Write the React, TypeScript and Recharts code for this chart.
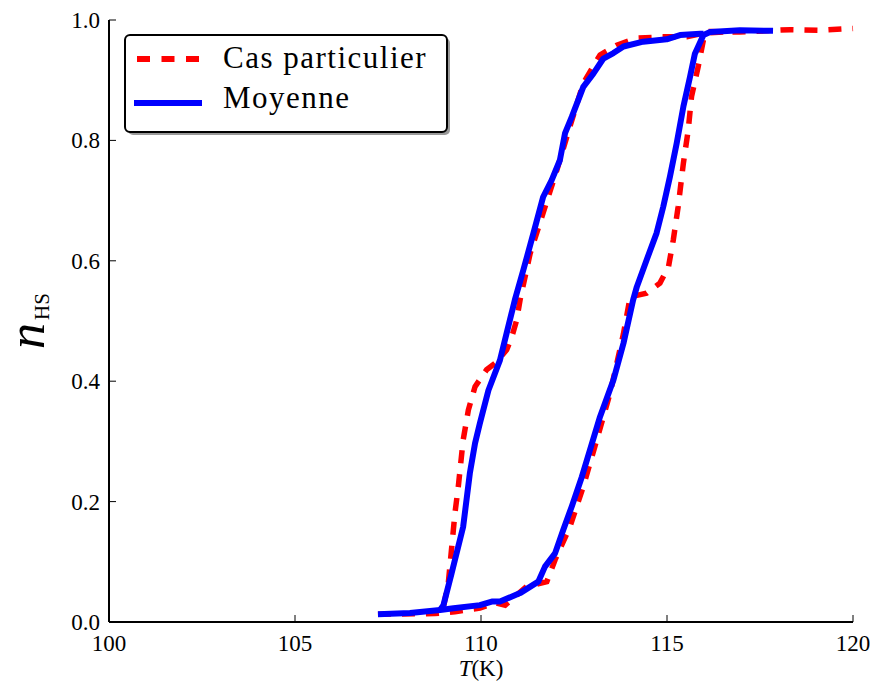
import { LineChart, Line, XAxis, YAxis } from "recharts";

const SERIF = "'Liberation Serif', serif";

// axis ticks
const xTicks = [100, 105, 110, 115, 120];
const yTicks = [0, 0.2, 0.4, 0.6, 0.8, 1.0];

// Cas particulier (dashed red) - heating branch, then cooling branch
const casHeatT = [107.23, 108.76, 109.3, 109.97, 110.38, 110.65, 111.23, 111.77, 111.99, 112.39, 112.75, 113.11, 113.47, 113.83, 114.01, 114.45, 114.81, 115.04, 115.17, 115.3, 115.44, 115.57, 115.66, 115.84, 115.98, 116.07, 116.96, 118.31, 119.11, 120.0];
const casHeatN = [0.013, 0.014, 0.017, 0.023, 0.032, 0.028, 0.059, 0.067, 0.103, 0.158, 0.225, 0.302, 0.38, 0.479, 0.54, 0.546, 0.563, 0.59, 0.635, 0.69, 0.762, 0.817, 0.873, 0.923, 0.967, 0.981, 0.98, 0.984, 0.983, 0.986];
const casCoolT = [116.51, 115.98, 115.53, 114.9, 114.19, 113.65, 113.2, 112.75, 112.39, 112.04, 111.32, 111.05, 110.96, 110.83, 110.69, 110.38, 110.15, 109.84, 109.66, 109.52, 109.39, 109.3, 109.12, 108.99, 108.76];
const casCoolN = [0.98, 0.978, 0.972, 0.972, 0.97, 0.958, 0.942, 0.895, 0.823, 0.751, 0.612, 0.535, 0.502, 0.474, 0.452, 0.43, 0.419, 0.391, 0.352, 0.302, 0.225, 0.181, 0.064, 0.025, 0.014];

// Moyenne (solid blue)
const moyHeatT = [107.23, 108.09, 108.9, 109.26, 109.97, 110.29, 110.51, 111.05, 111.54, 111.72, 111.99, 112.21, 112.44, 112.71, 112.93, 113.2, 113.56, 113.83, 114.09, 114.19, 114.45, 114.72, 114.9, 115.08, 115.26, 115.44, 115.62, 115.75, 115.98, 116.16, 116.96, 117.85];
const moyHeatN = [0.013, 0.015, 0.02, 0.023, 0.028, 0.034, 0.034, 0.048, 0.067, 0.092, 0.114, 0.153, 0.192, 0.241, 0.286, 0.341, 0.402, 0.463, 0.535, 0.557, 0.601, 0.646, 0.69, 0.74, 0.795, 0.856, 0.906, 0.944, 0.975, 0.98, 0.983, 0.982];
const moyCoolT = [115.98, 115.89, 115.35, 114.99, 114.36, 113.83, 113.56, 113.29, 113.02, 112.75, 112.44, 112.26, 112.12, 111.9, 111.67, 111.41, 111.14, 110.91, 110.69, 110.51, 110.2, 109.97, 109.84, 109.7, 109.52, 109.21, 108.99, 108.9];
const moyCoolN = [0.977, 0.977, 0.975, 0.968, 0.964, 0.956, 0.945, 0.936, 0.911, 0.889, 0.839, 0.812, 0.767, 0.734, 0.706, 0.646, 0.585, 0.535, 0.48, 0.435, 0.385, 0.33, 0.297, 0.247, 0.158, 0.081, 0.028, 0.02];

const zip = (t: number[], n: number[]) => t.map((T, i) => ({ T, n: n[i] }));

const casHeat = zip(casHeatT, casHeatN);
const casCool = zip(casCoolT, casCoolN);
const moyHeat = zip(moyHeatT, moyHeatN);
const moyCool = zip(moyCoolT, moyCoolN);

const txt = { fontFamily: SERIF, fill: "#000" };

const BottomTick = (props: any) => {
  const { x, y, payload } = props;
  return (
    <g>
      <line x1={x} y1={y} x2={x} y2={y - 7} stroke="#000" strokeWidth={1} />
      <text x={x} y={y + 29} textAnchor="middle" fontSize={23} style={txt}>
        {payload.value}
      </text>
    </g>
  );
};

const TopTick = (props: any) => {
  const { x, y } = props;
  return <line x1={x} y1={y} x2={x} y2={y + 7} stroke="#000" strokeWidth={1} />;
};

const LeftTick = (props: any) => {
  const { x, y, payload } = props;
  return (
    <g>
      <line x1={x} y1={y} x2={x + 7} y2={y} stroke="#000" strokeWidth={1} />
      <text x={x - 9} y={y + 8} textAnchor="end" fontSize={23} style={txt}>
        {Number(payload.value).toFixed(1)}
      </text>
    </g>
  );
};

const RightTick = (props: any) => {
  const { x, y } = props;
  return <line x1={x} y1={y} x2={x - 7} y2={y} stroke="#000" strokeWidth={1} />;
};

const XLabel = (props: any) => {
  const vb = props.viewBox;
  const cx = vb.x + vb.width / 2;
  return (
    <text x={cx} y={vb.y + 54} textAnchor="middle" fontSize={23} style={txt}>
      <tspan fontStyle="italic">T</tspan>
      <tspan>(K)</tspan>
    </text>
  );
};

const YLabel = (props: any) => {
  const vb = props.viewBox;
  const x = vb.x + 44;
  const y = vb.y + vb.height / 2;
  return (
    <text x={x} y={y} transform={`rotate(-90, ${x}, ${y})`} textAnchor="middle" style={txt}>
      <tspan fontStyle="italic" fontSize={52}>n</tspan>
      <tspan fontSize={21} dx={3} dy={5}>HS</tspan>
    </text>
  );
};

const frame = { stroke: "#000", strokeWidth: 2 };

export default function App() {
  return (
    <div style={{ position: "absolute", left: 0, top: 0, width: 876, height: 690, background: "#fff" }}>
      <LineChart width={876} height={690} margin={{ top: 20, right: 23, bottom: 0, left: 0 }}>
        <XAxis
          dataKey="T"
          type="number"
          domain={[100, 120]}
          ticks={xTicks}
          interval={0}
          height={68}
          tickSize={0}
          tickMargin={0}
          tickLine={false}
          axisLine={frame}
          tick={<BottomTick />}
          label={<XLabel />}
        />
        <XAxis
          xAxisId="top"
          orientation="top"
          type="number"
          domain={[100, 120]}
          ticks={xTicks}
          interval={0}
          height={0}
          tickSize={0}
          tickMargin={0}
          tickLine={false}
          axisLine={frame}
          tick={<TopTick />}
        />
        <YAxis
          type="number"
          domain={[0, 1]}
          ticks={yTicks}
          interval={0}
          width={109}
          tickSize={0}
          tickMargin={0}
          tickLine={false}
          axisLine={frame}
          tick={<LeftTick />}
          label={<YLabel />}
        />
        <YAxis
          yAxisId="right"
          orientation="right"
          type="number"
          domain={[0, 1]}
          ticks={yTicks}
          interval={0}
          width={0}
          tickSize={0}
          tickMargin={0}
          tickLine={false}
          axisLine={frame}
          tick={<RightTick />}
        />
        <Line data={casHeat} dataKey="n" type="linear" stroke="#ff0000" strokeWidth={5.5} strokeDasharray="13 11" dot={false} activeDot={false} isAnimationActive={false} />
        <Line data={casCool} dataKey="n" type="linear" stroke="#ff0000" strokeWidth={5.5} strokeDasharray="13 11" dot={false} activeDot={false} isAnimationActive={false} />
        <Line data={moyHeat} dataKey="n" type="linear" stroke="#0000ff" strokeWidth={6} strokeLinejoin="round" dot={false} activeDot={false} isAnimationActive={false} />
        <Line data={moyCool} dataKey="n" type="linear" stroke="#0000ff" strokeWidth={6} strokeLinejoin="round" dot={false} activeDot={false} isAnimationActive={false} />
      </LineChart>

      {/* legend */}
      <svg width={876} height={690} style={{ position: "absolute", left: 0, top: 0, pointerEvents: "none" }}>
        <rect x={128} y={38} width={322} height={97} rx={5} fill="#9a9a9a" />
        <rect x={125} y={35} width={322} height={97} rx={5} fill="#fff" stroke="#000" strokeWidth={2} />
        <line x1={137} y1={59} x2={199} y2={59} stroke="#ff0000" strokeWidth={6} strokeDasharray="13 11.5" />
        <line x1={137} y1={103} x2={199} y2={103} stroke="#0000ff" strokeWidth={6} strokeLinecap="square" />
        <text x={223} y={68} fontSize={31} letterSpacing={1.5} style={txt}>Cas particulier</text>
        <text x={223} y={108} fontSize={31} letterSpacing={1.5} style={txt}>Moyenne</text>
      </svg>
    </div>
  );
}
